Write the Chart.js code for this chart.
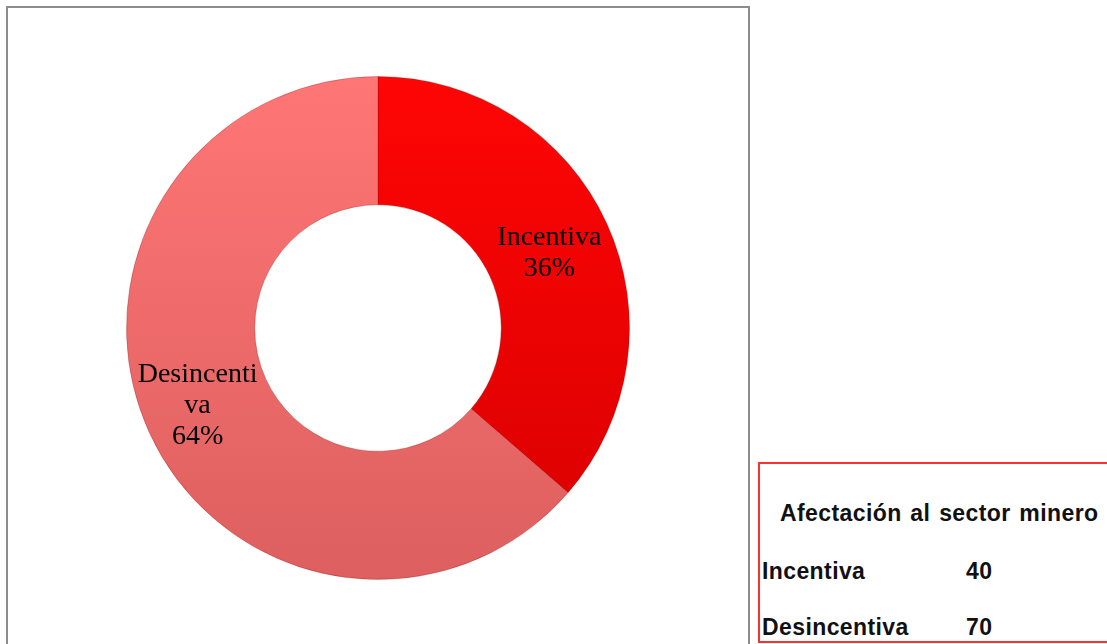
<!DOCTYPE html>
<html>
<head>
<meta charset="utf-8">
<script src="https://cdn.jsdelivr.net/npm/chart.js@4/dist/chart.umd.min.js"></script>
<style>
    html, body { margin: 0; padding: 0; background: #fff; width: 1107px; height: 644px; overflow: hidden; }
    #chartBox {
        position: absolute; left: 6px; top: 6px; width: 740px; height: 660px;
        border: 2px solid #8c8c8c; box-sizing: content-box;
    }
    #chartBox canvas { display: block; }
    #tabla {
        position: absolute; left: 758px; top: 462px; width: 380px; height: 177px;
        border: 2px solid #ff3030;
        font-family: "Liberation Sans", Arial, sans-serif; font-weight: bold; color: #111;
    }
    #tabla span { position: absolute; white-space: nowrap; font-size: 23px; line-height: 23px; letter-spacing: 0.4px; }
</style>
</head>
<body>
<div id="chartBox"><canvas id="myChart" width="740" height="640"></canvas></div>
<div id="tabla"></div>

<script>
// Datos del grafico
const categorias = ['Incentiva', 'Desincentiva'];
const valores = [40, 70];
const tituloTabla = 'Afectación al sector minero';
// etiquetas como aparecen en el grafico (partidas en lineas)
const etiquetasGrafico = [['Incentiva'], ['Desincenti', 'va']];

// colores arriba / abajo para el degradado
const coloresArriba = ['#ff0505', '#ff7676'];
const coloresAbajo = ['#d80000', '#dd5f5f'];

// Tabla de la derecha
function llenarTabla() {
    const tabla = document.getElementById('tabla');
    const t = document.createElement('span');
    t.textContent = tituloTabla;
    t.style.left = '20px'; t.style.top = '38px';
    t.style.wordSpacing = '2px';
    tabla.appendChild(t);
    categorias.forEach((cat, i) => {
        const a = document.createElement('span');
        a.textContent = cat;
        a.style.left = '2px'; a.style.top = (96 + i * 56) + 'px';
        const b = document.createElement('span');
        b.textContent = valores[i];
        b.style.left = '206px'; b.style.top = (96 + i * 56) + 'px';
        tabla.appendChild(a);
        tabla.appendChild(b);
    });
}

// Plugin para las etiquetas dentro de los sectores
const etiquetasPlugin = {
    id: 'etiquetas',
    afterDatasetsDraw(chart) {
        const ctx = chart.ctx;
        const meta = chart.getDatasetMeta(0);
        const total = valores.reduce((s, v) => s + v, 0);
        ctx.save();
        ctx.font = '28px "Liberation Serif", "Times New Roman", serif';
        ctx.fillStyle = '#000';
        ctx.textAlign = 'center';
        ctx.textBaseline = 'middle';
        meta.data.forEach((arc, i) => {
            const p = arc.tooltipPosition();
            const lineas = etiquetasGrafico[i].concat([Math.round(valores[i] / total * 100) + '%']);
            const lh = 31;
            const y0 = p.y - (lineas.length - 1) * lh / 2;
            const dx = i === 1 ? -11 : 0;
            const dy = i === 0 ? 3 : 0;
            lineas.forEach((l, k) => ctx.fillText(l, p.x + dx + 1, y0 + dy + k * lh));
        });
        ctx.restore();
    }
};

document.addEventListener('DOMContentLoaded', function () {
    llenarTabla();
    const ctx = document.getElementById('myChart').getContext('2d');
    new Chart(ctx, {
        type: 'doughnut',
        data: {
            labels: categorias,
            datasets: [{
                data: valores,
                backgroundColor: function (c) {
                    const area = c.chart.chartArea;
                    if (!area) return coloresArriba[c.dataIndex];
                    const g = c.chart.ctx.createLinearGradient(0, area.top, 0, area.bottom);
                    g.addColorStop(0, coloresArriba[c.dataIndex]);
                    g.addColorStop(1, coloresAbajo[c.dataIndex]);
                    return g;
                },
                borderColor: 'rgba(120,0,0,0.25)',
                borderWidth: 1
            }]
        },
        options: {
            responsive: false,
            animation: false,
            cutout: '49%',
            layout: { padding: 68 },
            plugins: {
                legend: { display: false },
                tooltip: { enabled: false }
            }
        },
        plugins: [etiquetasPlugin]
    });
});
</script>
</body>
</html>
